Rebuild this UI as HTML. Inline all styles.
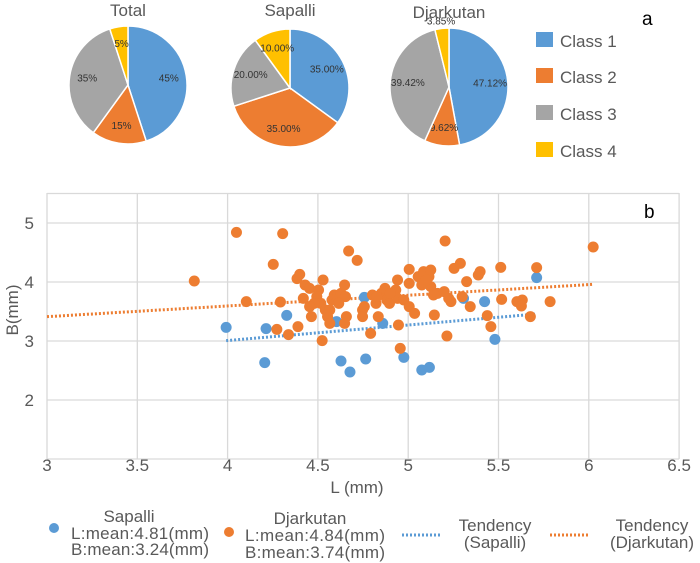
<!DOCTYPE html>
<html><head><meta charset="utf-8"><style>
html,body{margin:0;padding:0;background:#fff;width:700px;height:563px;overflow:hidden}
text{font-family:"Liberation Sans",sans-serif;fill:#595959}
</style></head><body>
<svg id="s" width="700" height="563" xmlns="http://www.w3.org/2000/svg">
<g id="pies"></g>
<text x="128" y="16" font-size="17" text-anchor="middle">Total</text>
<text x="290" y="16" font-size="17" text-anchor="middle">Sapalli</text>
<text x="449" y="18" font-size="17" text-anchor="middle">Djarkutan</text>
<text x="642" y="25" font-size="19" style="fill:#000">a</text>
<rect x="536" y="32" width="17" height="15" fill="#5B9BD5"/><text x="560" y="47" font-size="17">Class 1</text>
<rect x="536" y="68" width="17" height="15" fill="#ED7D31"/><text x="560" y="83" font-size="17">Class 2</text>
<rect x="536" y="105" width="17" height="15" fill="#A5A5A5"/><text x="560" y="120" font-size="17">Class 3</text>
<rect x="536" y="142" width="17" height="15" fill="#FFC000"/><text x="560" y="157" font-size="17">Class 4</text>
<g id="grid" stroke="#d9d9d9" stroke-width="1.3"></g>
<g id="pts"></g>
<text x="644" y="218" font-size="19" style="fill:#000">b</text>
<g id="lab" font-size="17"></g>
<text x="357" y="493" font-size="17" text-anchor="middle">L (mm)</text>
<text transform="translate(18,310) rotate(-90)" font-size="17" text-anchor="middle">B(mm)</text>
<circle cx="54" cy="528" r="5" fill="#5B9BD5"/>
<text x="129" y="522" font-size="17" text-anchor="middle">Sapalli</text>
<text x="71" y="539" textLength="138" font-size="17">L:mean:4.81(mm)</text>
<text x="71" y="555" textLength="138" font-size="17">B:mean:3.24(mm)</text>
<circle cx="229" cy="532" r="5" fill="#ED7D31"/>
<text x="310" y="524" font-size="17" text-anchor="middle">Djarkutan</text>
<text x="245" y="541" textLength="140" font-size="17">L:mean:4.84(mm)</text>
<text x="245" y="558" textLength="140" font-size="17">B:mean:3.74(mm)</text>
<line x1="402" y1="535" x2="442" y2="535" stroke="#5B9BD5" stroke-width="3" stroke-dasharray="2 2"/>
<text x="495" y="531" font-size="17" text-anchor="middle">Tendency</text>
<text x="495" y="548" font-size="17" text-anchor="middle">(Sapalli)</text>
<line x1="550" y1="535" x2="589" y2="535" stroke="#ED7D31" stroke-width="3" stroke-dasharray="2 2"/>
<text x="652" y="531" font-size="17" text-anchor="middle">Tendency</text>
<text x="652" y="548" font-size="17" text-anchor="middle">(Djarkutan)</text>
</svg>
<script>
var NS="http://www.w3.org/2000/svg";
function el(p,t,a){var e=document.createElementNS(NS,t);for(var k in a)e.setAttribute(k,a[k]);p.appendChild(e);return e;}
var cols=["#5B9BD5","#ED7D31","#A5A5A5","#FFC000"];
var pies=[[128,85,[45,15,35,5],["45%","15%","35%","5%"]],[290,88,[35,35,20,10],["35.00%","35.00%","20.00%","10.00%"]],[449,87,[47.12,9.62,39.42,3.85],["47.12%","9.62%","39.42%","3.85%"]]];
var pg=document.getElementById("pies");
pies.forEach(function(p){var cx=p[0],cy=p[1],r=59,a=0;
p[2].forEach(function(v,i){var a0=a,a1=a+v/100*2*Math.PI;a=a1;
var x0=cx+r*Math.sin(a0),y0=cy-r*Math.cos(a0),x1=cx+r*Math.sin(a1),y1=cy-r*Math.cos(a1);
el(pg,"path",{d:"M"+cx+","+cy+"L"+x0+","+y0+"A"+r+","+r+" 0 "+(a1-a0>Math.PI?1:0)+" 1 "+x1+","+y1+"Z",fill:cols[i],stroke:"#fff","stroke-width":1.5});
var m=(a0+a1)/2,rr=(i==3&&p[2][i]<5)?r+7:r*0.7;
var t=el(pg,"text",{x:cx+rr*Math.sin(m),y:cy-rr*Math.cos(m)+3,"font-size":10,"text-anchor":"middle"});t.style.fill="#333";t.textContent=p[3][i];});});
var g=document.getElementById("grid");
for(var i=0;i<8;i++){var x=47+i*90.3;el(g,"line",{x1:x,y1:193,x2:x,y2:459});}
[193.5,223,282,341,400,459].forEach(function(y){el(g,"line",{x1:47,y1:y,x2:679,y2:y});});
var lab=document.getElementById("lab");
["3","3.5","4","4.5","5","5.5","6","6.5"].forEach(function(s,i){var t=el(lab,"text",{x:47+i*90.3,y:471,"text-anchor":"middle"});t.textContent=s;});
[["5",223],["4",282],["3",341],["2",400]].forEach(function(d){var t=el(lab,"text",{x:34,y:d[1]+6,"text-anchor":"end"});t.textContent=d[0];});
var O=[[433,333],[527,187],[630,191],[609,283],[549,395],[625,396],[617,478],[643,494],[664,470],[662,326],[668,313],[680,345],[690,355],[676,385],[694,440],[710,360],[720,330],[706,380],[715,400],[725,420],[730,440],[718,512],[735,460],[740,390],[745,375],[752,380],[760,370],[768,345],[770,380],[772,440],[768,460],[777,243],[796,271],[808,420],[808,440],[812,410],[826,490],[830,375],[838,400],[843,440],[850,370],[858,355],[862,390],[868,400],[882,360],[886,330],[886,385],[888,465],[892,535],[900,390],[912,298],[912,340],[912,410],[924,430],[932,320],[940,345],[944,305],[956,320],[960,300],[960,350],[966,375],[968,435],[975,370],[990,365],[992,213],[996,498],[1005,395],[1012,295],[1026,280],[1030,380],[1040,335],[1048,410],[1066,315],[1070,305],[1086,437],[1094,470],[1116,292],[1118,388],[1152,395],[1164,390],[1162,408],[1182,440],[1196,293],[1226,395],[1322,231],[700,400],[735,420],[755,400],[690,410],[840,380],[870,370],[950,330],[1000,385]];
var B=[[504,472],[590,578],[593,476],[639,436],[750,455],[760,573],[780,606],[812,382],[815,567],[853,460],[900,562],[940,600],[957,592],[1033,385],[1080,395],[1103,508],[1196,323]];
var P=document.getElementById("pts");
function px(x){return x*0.4487}function py(y){return 170+y/3}
el(P,"line",{x1:px(504),y1:py(512),x2:px(1196),y2:py(432),stroke:"#5B9BD5","stroke-width":3,"stroke-dasharray":"2 2"});
el(P,"line",{x1:47,y1:py(440),x2:px(1322),y2:py(343),stroke:"#ED7D31","stroke-width":3,"stroke-dasharray":"2 2"});
B.forEach(function(p){el(P,"circle",{cx:px(p[0]),cy:py(p[1]),r:5.5,fill:"#5B9BD5"});});
O.forEach(function(p){el(P,"circle",{cx:px(p[0]),cy:py(p[1]),r:5.5,fill:"#ED7D31"});});
</script>
</body></html>
